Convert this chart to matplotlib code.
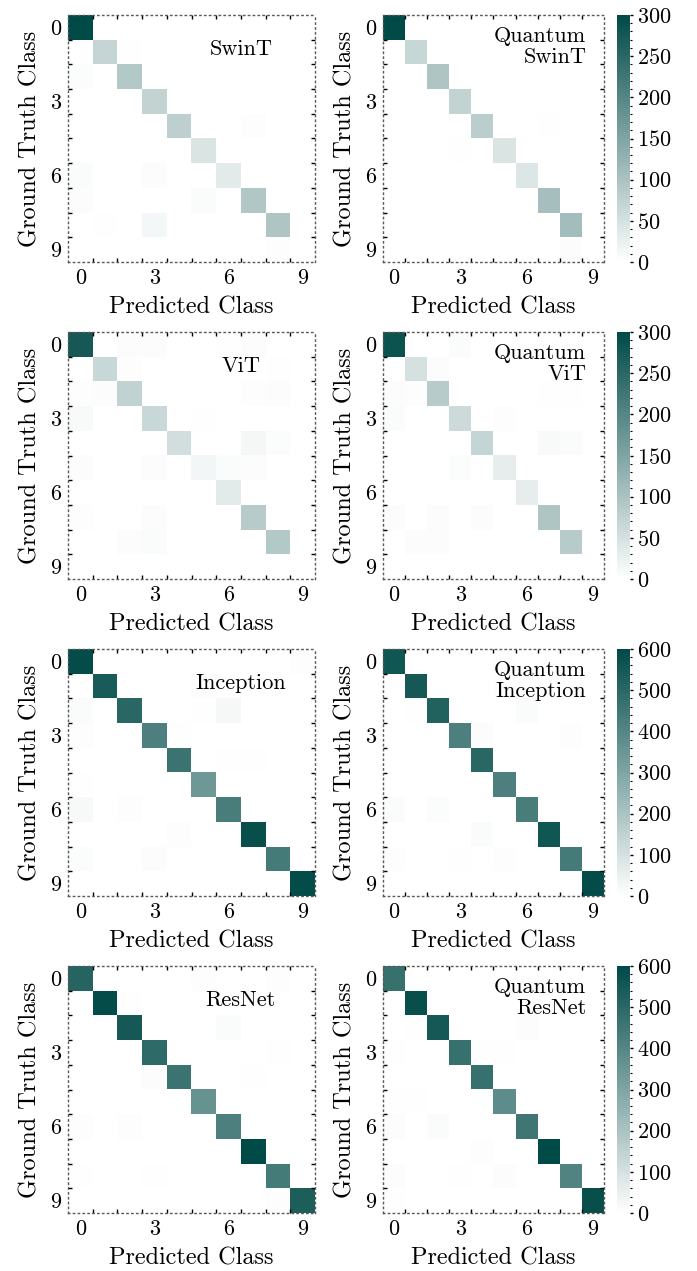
import numpy as np
import matplotlib
matplotlib.use("Agg")
import matplotlib.pyplot as plt
from matplotlib.colors import LinearSegmentedColormap
from matplotlib.ticker import AutoMinorLocator

plt.rcParams['font.family'] = 'serif'
plt.rcParams['font.serif'] = ['cmr10', 'DejaVu Serif']
plt.rcParams['axes.formatter.use_mathtext'] = True
plt.rcParams['mathtext.fontset'] = 'cm'

classes = list(range(10))
tick_positions = [0, 3, 6, 9]
tick_labels = ["0", "3", "6", "9"]

def mat(entries):
    m = np.zeros((10, 10))
    for (r, c), v in entries.items():
        m[r, c] = v
    return m

swint = mat({(0,0):300,(1,1):68,(1,2):2,(2,0):5,(2,2):90,(3,3):72,(4,4):78,(4,7):3,
             (5,5):45,(6,0):6,(6,3):4,(6,6):33,(7,0):4,(7,5):7,(7,7):92,(8,1):2,(8,3):14,(8,8):95,(9,8):3})
q_swint = mat({(0,0):300,(1,1):66,(2,2):96,(2,8):1,(3,2):1,(3,3):72,(4,4):82,(4,7):2,(5,3):2,(5,5):45,
               (6,6):40,(7,7):105,(7,8):1,(8,8):108,(9,8):4})
vit = mat({(0,0):275,(0,2):4,(0,3):4,(0,6):2,(0,7):4,(1,1):65,(1,2):3,(1,8):2,
           (2,0):3,(2,1):4,(2,2):74,(2,7):3,(2,8):4,(3,0):9,(3,3):65,(3,5):2,
           (4,4):55,(4,7):12,(4,8):5,(5,0):4,(5,3):4,(5,5):15,(5,6):7,(5,7):4,
           (6,6):35,(7,0):3,(7,3):4,(7,7):85,(8,2):4,(8,3):6,(8,8):90,(9,1):1,(9,7):1})
q_vit = mat({(0,0):285,(0,3):6,(1,1):50,(1,2):4,(2,0):4,(2,1):3,(2,2):85,(2,7):2,(2,8):2,
             (3,0):6,(3,3):60,(3,5):3,(4,4):70,(4,7):9,(4,8):6,(5,3):5,(5,5):30,
             (6,6):30,(7,0):4,(7,2):4,(7,4):4,(7,7):95,(8,1):4,(8,2):4,(8,8):85,(9,8):1})
inception = mat({(0,0):590,(0,9):5,(1,1):540,(1,5):9,(2,0):12,(2,2):500,(2,5):3,(2,6):22,
                 (3,0):7,(3,3):420,(3,4):3,(4,4):460,(4,6):3,(4,7):3,(5,0):4,(5,5):340,
                 (6,0):20,(6,2):7,(6,6):430,(7,4):7,(7,7):580,(8,0):10,(8,3):9,(8,8):440,(9,9):590})
q_inception = mat({(0,0):560,(0,5):3,(1,1):550,(1,5):5,(2,1):3,(2,2):520,(2,6):12,
                   (3,3):420,(3,4):9,(3,8):6,(4,4):500,(5,0):2,(5,5):420,(6,0):12,(6,2):10,(6,6):430,
                   (7,4):14,(7,7):560,(8,0):7,(8,3):4,(8,5):6,(8,8):440,(9,0):2,(9,9):590})
resnet = mat({(0,0):510,(0,5):6,(0,8):7,(1,1):590,(1,2):3,(2,2):550,(2,6):12,
              (3,3):490,(3,8):3,(4,3):9,(4,4):460,(4,7):4,(5,5):360,(6,0):7,(6,2):7,(6,6):420,
              (7,7):600,(8,0):4,(8,3):4,(8,8):440,(9,8):6,(9,9):530})
q_resnet = mat({(0,0):470,(1,1):580,(2,1):3,(2,2):550,(2,6):9,(3,0):3,(3,3):470,(3,4):3,(3,5):3,
                (4,4):470,(4,7):2,(5,0):3,(5,1):4,(5,5):380,(6,0):8,(6,2):12,(6,6):450,
                (7,4):7,(7,7):600,(8,0):9,(8,3):4,(8,5):9,(8,8):410,(9,0):3,(9,9):580})

rows = [
    (swint, "SwinT", q_swint, "Quantum\nSwinT", 300, 50),
    (vit, "ViT", q_vit, "Quantum\nViT", 300, 50),
    (inception, "Inception", q_inception, "Quantum\nInception", 600, 100),
    (resnet, "ResNet", q_resnet, "Quantum\nResNet", 600, 100),
]

cmap = LinearSegmentedColormap.from_list("teal", ["#ffffff", "#004a47"])

W, H = 697, 1271
fig = plt.figure(figsize=(W/100, H/100), dpi=100)
tops = [15, 332, 649, 966]
ah = 247

def style_ax(ax):
    ax.set_xlim(-0.5, 9.5)
    ax.set_ylim(9.5, -0.5)
    ax.set_xticks(tick_positions)
    ax.set_xticklabels(tick_labels)
    ax.set_yticks(tick_positions)
    ax.set_yticklabels(tick_labels)
    ax.set_xticks(np.arange(0.5, 9, 1), minor=True)
    ax.set_yticks(np.arange(0.5, 9, 1), minor=True)
    ax.tick_params(which='major', length=0, labelsize=16, pad=5)
    ax.tick_params(which='minor', direction='in', length=3, width=1.0,
                   top=True, right=True, bottom=True, left=True)
    for s in ax.spines.values():
        s.set_linestyle((0, (1, 2.5)))
        s.set_linewidth(1.0)
        s.set_color('0.35')
    ax.set_xlabel("Predicted Class", fontsize=17.5, labelpad=6)
    ax.set_ylabel("Ground Truth Class", fontsize=17.5, labelpad=6)

for i, (m1, n1, m2, n2, vmax, step) in enumerate(rows):
    top = tops[i]
    b = 1 - (top + ah) / H
    axL = fig.add_axes([68/W, b, 247/W, ah/H])
    axL.imshow(m1, cmap=cmap, vmin=0, vmax=vmax, aspect='auto', interpolation='nearest')
    style_ax(axL)
    axL.text(0.70, 0.86, n1, transform=axL.transAxes, ha='center', va='center', fontsize=16)

    axR = fig.add_axes([383/W, b, 221/W, ah/H])
    im = axR.imshow(m2, cmap=cmap, vmin=0, vmax=vmax, aspect='auto', interpolation='nearest')
    style_ax(axR)
    axR.text(0.92, 0.955, n2, transform=axR.transAxes, ha='right', va='top', fontsize=16,
             linespacing=1.15)

    cax = fig.add_axes([617/W, b, 13/W, ah/H])
    cb = fig.colorbar(im, cax=cax)
    cb.outline.set_visible(False)
    cb.set_ticks(np.arange(0, vmax + 1, step))
    cb.ax.yaxis.set_minor_locator(AutoMinorLocator(5))
    cb.ax.tick_params(which='major', length=2, width=1, labelsize=16, pad=3)
    cb.ax.tick_params(which='minor', length=1.5, width=0.8)

fig.savefig("out.png", dpi=100)
